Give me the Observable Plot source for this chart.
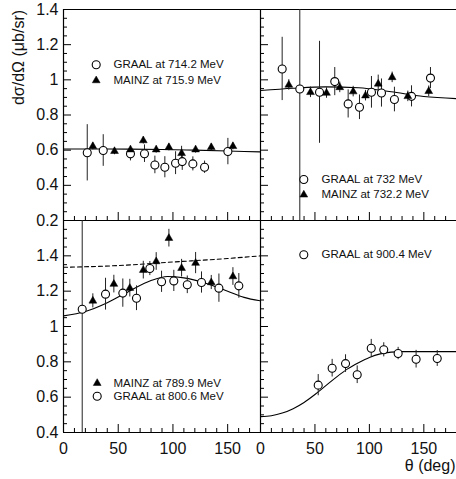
<!DOCTYPE html>
<html><head><meta charset="utf-8">
<script src="https://cdn.jsdelivr.net/npm/d3@7"></script>
<script src="https://cdn.jsdelivr.net/npm/@observablehq/plot@0.6"></script>
<style>
body{margin:0;background:#fff;overflow:hidden}
#chart{position:relative;width:456px;height:479px}
#chart svg{position:absolute;left:0;top:0}
</style></head><body><div id="chart"></div>
<script>
// ---------- data ----------
const graal714 = [
  {theta:21.7,value:0.585,err:0.16},{theta:36.3,value:0.598,err:0.09},{theta:61.2,value:0.579,err:0.04},
  {theta:74.0,value:0.580,err:0.05},{theta:83.5,value:0.516,err:0.05},{theta:92.6,value:0.503,err:0.06},
  {theta:102.4,value:0.526,err:0.065},{theta:108.5,value:0.535,err:0.05},{theta:118.2,value:0.522,err:0.04},
  {theta:128.9,value:0.503,err:0.035},{theta:150.2,value:0.592,err:0.075}];
const mainz715 = [
  {theta:26.8,value:0.622,err:0.02},{theta:46.6,value:0.594,err:0.02},{theta:61.2,value:0.603,err:0.02},
  {theta:72.9,value:0.655,err:0.02},{theta:84.7,value:0.603,err:0.02},{theta:96.3,value:0.616,err:0.02},
  {theta:107.9,value:0.582,err:0.04},{theta:120.7,value:0.603,err:0.02},{theta:135.0,value:0.616,err:0.02},
  {theta:154.8,value:0.622,err:0.02}];
const fit714Theta = [0,30,60,90,120,150,180];
const fit714Value = [0.607,0.607,0.606,0.604,0.600,0.595,0.590];

const graal732 = [
  {theta:19.9,value:1.062,err:0.18},{theta:36.1,value:0.948,err:1.0},{theta:54.2,value:0.929,err:0.29},
  {theta:68.2,value:0.990,err:0.08},{theta:80.5,value:0.863,err:0.08},{theta:90.9,value:0.844,err:0.07},
  {theta:101.9,value:0.929,err:0.09},{theta:111.1,value:0.925,err:0.08},{theta:123.0,value:0.888,err:0.07},
  {theta:138.7,value:0.906,err:0.06},{theta:156.1,value:1.010,err:0.06}];
const mainz732 = [
  {theta:26.0,value:0.971,err:0.03},{theta:45.9,value:0.929,err:0.03},{theta:60.6,value:0.925,err:0.03},
  {theta:72.8,value:0.957,err:0.03},{theta:85.1,value:0.933,err:0.03},{theta:96.4,value:0.910,err:0.03},
  {theta:108.1,value:0.977,err:0.05},{theta:120.9,value:1.014,err:0.03},{theta:135.3,value:0.906,err:0.03},
  {theta:154.5,value:0.935,err:0.03}];
const fit732Theta = [0,30,60,90,120,150,180];
const fit732Value = [0.939,0.952,0.960,0.955,0.932,0.905,0.893];

const mainz790 = [
  {theta:26.8,value:1.145,err:0.04},{theta:46.0,value:1.240,err:0.05},{theta:60.6,value:1.217,err:0.05},
  {theta:72.9,value:1.319,err:0.05},{theta:84.7,value:1.368,err:0.05},{theta:96.3,value:1.500,err:0.05},
  {theta:107.9,value:1.330,err:0.05},{theta:120.7,value:1.359,err:0.06},{theta:135.0,value:1.249,err:0.04},
  {theta:154.8,value:1.283,err:0.05}];
const graal800 = [
  {theta:17.1,value:1.098,err:1.0},{theta:38.4,value:1.183,err:0.09},{theta:54.2,value:1.189,err:0.08},
  {theta:66.7,value:1.160,err:0.07},{theta:78.9,value:1.328,err:0.04},{theta:89.6,value:1.253,err:0.06},
  {theta:100.8,value:1.258,err:0.06},{theta:113.1,value:1.236,err:0.05},{theta:126.1,value:1.249,err:0.06},
  {theta:142.0,value:1.217,err:0.08},{theta:160.2,value:1.230,err:0.07}];
const fit800Theta = [0,20,40,60,80,95,110,130,150,165,180];
const fit800Value = [1.060,1.085,1.135,1.200,1.260,1.283,1.275,1.245,1.200,1.165,1.145];
const fit790DashTheta = [0,50,100,150,180];
const fit790DashValue = [1.335,1.345,1.365,1.385,1.400];

const graal900 = [
  {theta:53.0,value:0.668,err:0.06},{theta:65.8,value:0.764,err:0.05},{theta:78.1,value:0.790,err:0.05},
  {theta:88.8,value:0.727,err:0.05},{theta:101.7,value:0.877,err:0.05},{theta:113.2,value:0.868,err:0.04},
  {theta:126.4,value:0.847,err:0.035},{theta:142.9,value:0.815,err:0.05},{theta:162.3,value:0.819,err:0.045}];
const fit900Theta = [0,10,20,30,40,50,60,70,80,90,100,110,120,130,150,180];
const fit900Value = [0.490,0.495,0.510,0.535,0.570,0.615,0.665,0.715,0.760,0.795,0.825,0.845,0.855,0.858,0.858,0.858];

const xMajorTicks = [0,50,100,150];
const xMinorTicks = [10,20,30,40,60,70,80,90,110,120,130,140,160,170];
const yTopMajor = [0.2,0.4,0.6,0.8,1,1.2,1.4];
const yBottomMajor = [0.4,0.6,0.8,1,1.2,1.4,1.6];
const yTopMinor = [0.25,0.3,0.35,0.45,0.5,0.55,0.65,0.7,0.75,0.85,0.9,0.95,1.05,1.1,1.15,1.25,1.3,1.35];
const yBottomMinor = [0.45,0.5,0.55,0.65,0.7,0.75,0.85,0.9,0.95,1.05,1.1,1.15,1.25,1.3,1.35,1.45,1.5,1.55];
const yTopLabels = [0.2,0.4,0.6,0.8,1,1.2,1.4];
const yBottomLabels = [0.4,0.6,0.8,1,1.2,1.4];
const xLabels = [0,50,100,150];

const yTitle = "dσ/dΩ (μb/sr)";
const xTitle = "θ (deg)";

// ---------- drawing ----------
const W = 456, H = 479;
const FONT = "'Liberation Sans', Arial, Helvetica, sans-serif";
const fmt = d3.format("~g");
const zip = (t, v) => t.map((th, i) => ({theta: th, value: v[i]}));

function legendMarks(entries, mx, my, gap, tx) {
  const out = [];
  entries.forEach((e, i) => {
    const dy = my + i * gap;
    out.push(Plot.dot([e], {frameAnchor: "top-left", dx: mx, dy,
      symbol: e.symbol, r: e.symbol === "circle" ? 4 : 2.9,
      fill: e.symbol === "circle" ? "white" : "black", stroke: "black", strokeWidth: e.symbol === "circle" ? 1.1 : 0.5}));
    out.push(Plot.text([e], {frameAnchor: "top-left", dx: tx, dy, text: "label",
      textAnchor: "start", lineAnchor: "middle", fontSize: 11.5, fill: "#111"}));
  });
  return out;
}

function panel(o) {
  const marks = [];
  const [y0, y1] = o.yDomain;
  marks.push(Plot.ruleY([y0], {stroke: "black", strokeWidth: 1.2}));
  if (o.top) marks.push(Plot.ruleY([y1], {stroke: "black", strokeWidth: 1.2}));
  marks.push(Plot.ruleX([0], {stroke: "black", strokeWidth: 1.2}));
  marks.push(Plot.axisY(o.yMajor, {anchor: "left", tickSize: -8, stroke: "black", fill: "none", label: null}));
  marks.push(Plot.axisY(o.yMinor, {anchor: "left", tickSize: -4, stroke: "black", fill: "none", label: null}));
  if (o.yLabels) marks.push(Plot.axisY(o.yLabels, {anchor: "left", tickSize: 0, tickPadding: 5, tickFormat: fmt,
    fontSize: 16, fill: "#111", label: null}));
  marks.push(Plot.axisX(xMajorTicks, {anchor: "bottom", tickSize: -8, stroke: "black", fill: "none", label: null}));
  marks.push(Plot.axisX(xMinorTicks, {anchor: "bottom", tickSize: -4, stroke: "black", fill: "none", label: null}));
  if (o.xLabels) marks.push(Plot.axisX(o.xLabels, {anchor: "bottom", tickSize: 0, tickPadding: 10, tickFormat: fmt,
    fontSize: 16, fill: "#111", label: null}));
  (o.curves || []).forEach(c => marks.push(Plot.line(c.data, {x: "theta", y: "value", curve: "monotone-x",
    stroke: "black", strokeWidth: 1.1, strokeDasharray: c.dash || null, clip: true})));
  (o.series || []).forEach(s => marks.push(Plot.ruleX(s.data, {x: "theta",
    y1: d => d.value - d.err, y2: d => d.value + d.err, stroke: "#222", strokeWidth: 1, clip: true})));
  (o.series || []).forEach(s => marks.push(Plot.dot(s.data, {x: "theta", y: "value", symbol: s.symbol,
    r: s.symbol === "circle" ? 4 : 2.9, fill: s.symbol === "circle" ? "white" : "black",
    stroke: "black", strokeWidth: s.symbol === "circle" ? 1.1 : 0.5})));
  marks.push(...legendMarks(o.legend.entries, o.legend.mx, o.legend.my, o.legend.gap, o.legend.tx));
  (o.extra || []).forEach(m => marks.push(m));
  return Plot.plot({
    width: W, height: H,
    marginLeft: o.box[0], marginRight: W - o.box[2], marginTop: o.box[1], marginBottom: H - o.box[3],
    x: {domain: [0, 180]},
    y: {domain: o.yDomain},
    style: {background: "transparent", fontFamily: FONT, overflow: "visible", color: "black"},
    marks
  });
}

const L = 63, MID = 260, R = 456, T = 9, HM = 220, B = 432;
const charts = [
  panel({box: [L, T, MID, HM], yDomain: [0.2, 1.4], top: true, yMajor: yTopMajor, yMinor: yTopMinor, yLabels: yTopLabels,
    series: [{data: graal714, symbol: "circle"}, {data: mainz715, symbol: "triangle"}],
    curves: [{data: zip(fit714Theta, fit714Value)}],
    legend: {entries: [{label: "GRAAL at 714.2 MeV", symbol: "circle"}, {label: "MAINZ at 715.9 MeV", symbol: "triangle"}],
      mx: 32.7, my: 55.3, gap: 15.7, tx: 50},
    extra: [Plot.text([yTitle], {frameAnchor: "top-left", dx: -45, dy: 48, rotate: -90, textAnchor: "middle",
      lineAnchor: "middle", fontSize: 16, fill: "#111"})]}),
  panel({box: [MID, T, R, HM], yDomain: [0.2, 1.4], top: true, yMajor: yTopMajor, yMinor: yTopMinor,
    series: [{data: graal732, symbol: "circle"}, {data: mainz732, symbol: "triangle"}],
    curves: [{data: zip(fit732Theta, fit732Value)}],
    legend: {entries: [{label: "GRAAL at 732 MeV", symbol: "circle"}, {label: "MAINZ at 732.2 MeV", symbol: "triangle"}],
      mx: 43.3, my: 170, gap: 15.3, tx: 61}}),
  panel({box: [L, HM, MID, B], yDomain: [0.4, 1.6], yMajor: yBottomMajor, yMinor: yBottomMinor, yLabels: yBottomLabels,
    xLabels: xLabels,
    series: [{data: graal800, symbol: "circle"}, {data: mainz790, symbol: "triangle"}],
    curves: [{data: zip(fit800Theta, fit800Value)}, {data: zip(fit790DashTheta, fit790DashValue), dash: "4,3"}],
    legend: {entries: [{label: "MAINZ at 789.9 MeV", symbol: "triangle"}, {label: "GRAAL at 800.6 MeV", symbol: "circle"}],
      mx: 33.7, my: 162.7, gap: 13, tx: 50}}),
  panel({box: [MID, HM, R, B], yDomain: [0.4, 1.6], yMajor: yBottomMajor, yMinor: yBottomMinor,
    xLabels: xLabels,
    series: [{data: graal900, symbol: "circle"}],
    curves: [{data: zip(fit900Theta, fit900Value)}],
    legend: {entries: [{label: "GRAAL at 900.4 MeV", symbol: "circle"}], mx: 43.3, my: 34.3, gap: 15, tx: 61},
    extra: [Plot.text([xTitle], {frameAnchor: "bottom-right", dx: -1, dy: 33, textAnchor: "end",
      lineAnchor: "middle", fontSize: 16, fill: "#111"})]})
];
const host = document.getElementById("chart");
charts.forEach(c => host.appendChild(c));
</script>
</body></html>
